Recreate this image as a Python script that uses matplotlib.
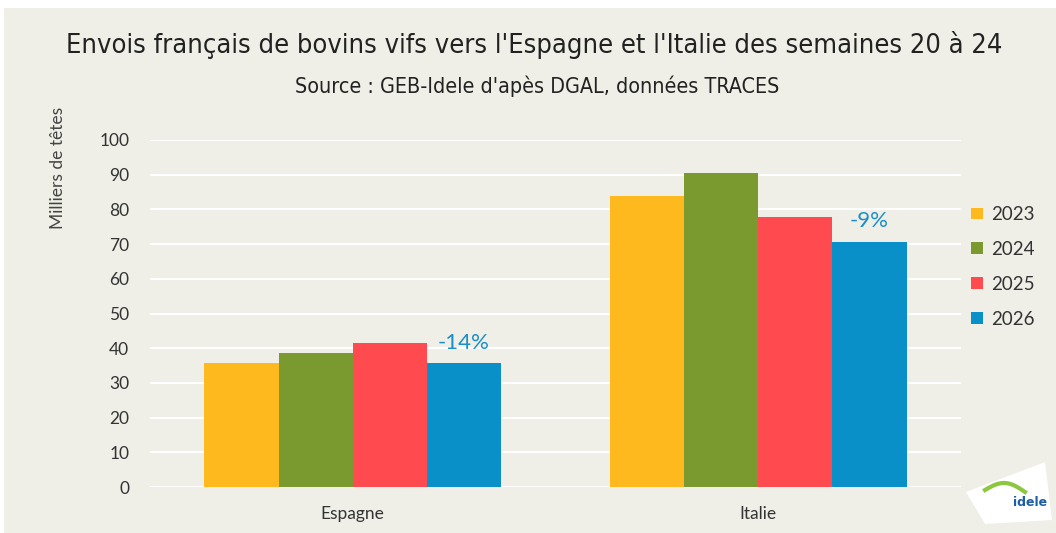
import matplotlib
matplotlib.use("Agg")
import matplotlib.pyplot as plt
import numpy as np
from matplotlib.patches import Rectangle, Polygon

categories = ["Espagne", "Italie"]
years = ["2023", "2024", "2025", "2026"]
values = {
    "2023": [35.6, 83.9],
    "2024": [38.5, 90.4],
    "2025": [41.4, 77.9],
    "2026": [35.6, 70.7],
}
variation_labels = ["-14%", "-9%"]
colors = ["#FDB91E", "#7A992E", "#FF4B4F", "#0A90C8"]

W, H = 1056, 533
fig = plt.figure(figsize=(W / 100, H / 100), dpi=100)
fig.patch.set_facecolor("white")
bg = "#EFEFE7"
fig.patches.append(Rectangle((4 / W, 0), 1 - 4 / W, 1 - 8 / H, transform=fig.transFigure,
                             facecolor=bg, edgecolor="none", zorder=-10))

ax = fig.add_axes([150 / W, 1 - 487 / H, 811 / W, (487 - 140) / H])
ax.set_facecolor(bg)
ax.patch.set_alpha(0)

x = np.arange(len(categories))
bw = 0.183
for i, (yr, c) in enumerate(zip(years, colors)):
    ax.bar(x + (i - 1.5) * bw, values[yr], width=bw, color=c, zorder=3, label=yr)

for j, lab in enumerate(variation_labels):
    ax.text(x[j] + 1.5 * bw, values["2026"][j] + 6, lab, ha="center", va="center",
            fontsize=16, color="#1A8FC8", family="Lato", zorder=4)

ax.set_xlim(-0.5, 1.5)
ax.set_ylim(0, 100)
ax.set_yticks(np.arange(0, 101, 10))
ax.yaxis.grid(True, color="white", linewidth=1.5, zorder=0)
ax.set_axisbelow(True)
for s in ax.spines.values():
    s.set_visible(False)
ax.tick_params(axis="both", length=0, labelsize=12.5, colors="#333333", pad=15)
ax.tick_params(axis="x", pad=14)
ax.set_xticks(x)
ax.set_xticklabels(categories)
for lab in ax.get_yticklabels() + ax.get_xticklabels():
    lab.set_family("Lato")
ax.set_ylabel("Milliers de têtes", fontsize=12.5, color="#444444", family="Lato")
ax.yaxis.set_label_coords(-0.103, 0.92)

leg = ax.legend(loc="upper left", bbox_to_anchor=(0.992, 0.858), frameon=False,
                prop={"family": "Lato", "size": 13.5}, handlelength=0.6, handleheight=0.6,
                handletextpad=0.45, labelspacing=0.95)
for t in leg.get_texts():
    t.set_color("#333333")

fig.text(534 / W, 1 - 45 / H, "Envois français de bovins vifs vers l'Espagne et l'Italie des semaines 20 à 24",
         ha="center", va="center", fontsize=19.5, color="#222222", family="DejaVu Sans",
         fontstretch="condensed")
fig.text(537 / W, 1 - 86 / H, "Source : GEB-Idele d'apès DGAL, données TRACES",
         ha="center", va="center", fontsize=15.4, color="#222222", family="DejaVu Sans",
         fontstretch="condensed")

# logo approximation
logo = Polygon([[966 / W, 1 - 492 / H], [1045 / W, 1 - 462 / H], [1052 / W, 1 - 520 / H],
                [985 / W, 1 - 524 / H]], closed=True, transform=fig.transFigure,
               facecolor="white", edgecolor="none", zorder=5)
fig.patches.append(logo)
tt = np.linspace(0, 1, 30)
fig.lines.append(plt.Line2D((985 + 40 * tt) / W, 1 - (490 - 8 * np.sin(tt * np.pi) + 2 * tt) / H,
                            transform=fig.transFigure, color="#8DC63F", linewidth=3, zorder=6))
fig.text(1030 / W, 1 - 503 / H, "idele", ha="center", va="center", fontsize=9,
         color="#1E5DA8", weight="bold", family="DejaVu Sans", zorder=6)

fig.savefig("out.png", dpi=100, facecolor=fig.get_facecolor())
